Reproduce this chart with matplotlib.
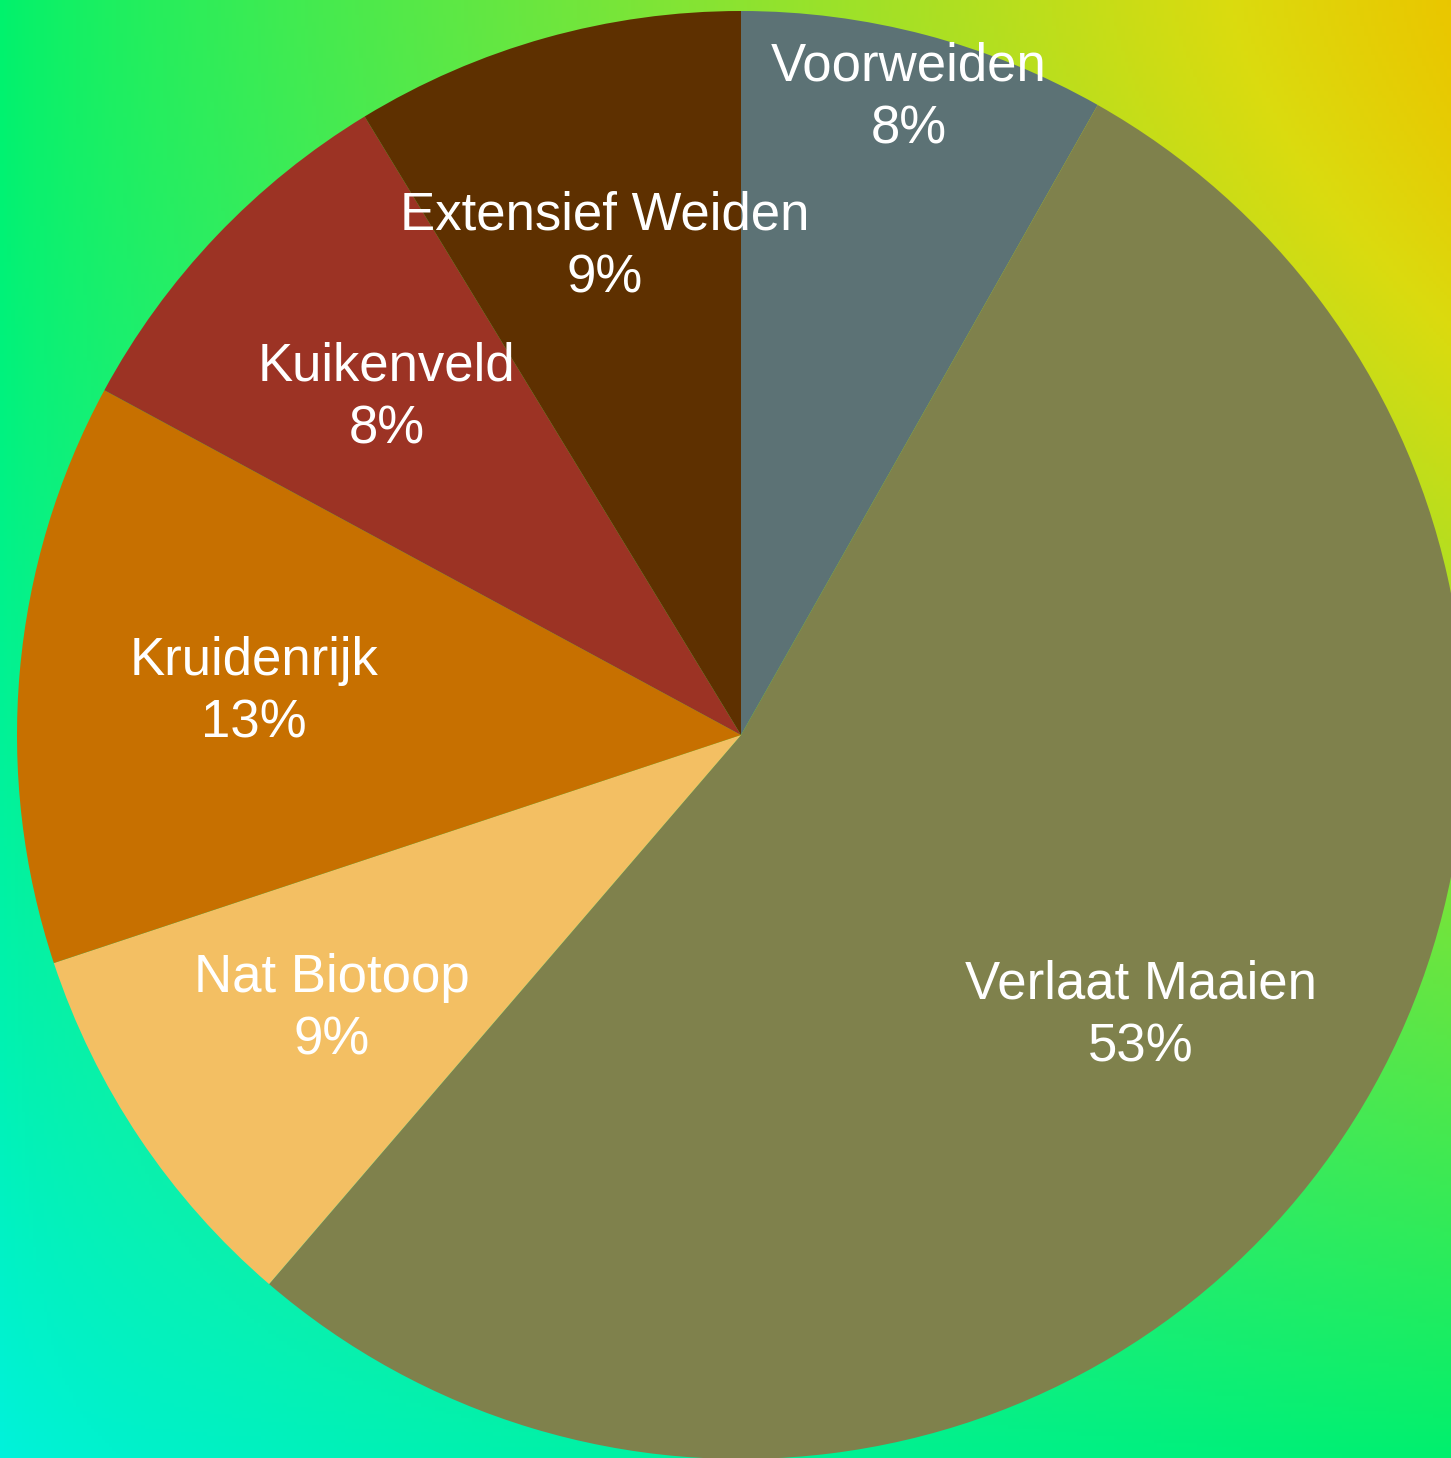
import numpy as np
import matplotlib
matplotlib.use("Agg")
import matplotlib.pyplot as plt

# -------------------------------
# Data (clockwise from 12 o'clock)
# -------------------------------
categories = ["Voorweiden", "Verlaat Maaien", "Nat Biotoop", "Kruidenrijk", "Kuikenveld", "Extensief Weiden"]
shares = [8.2, 53.1, 8.6, 13.0, 8.4, 8.7]
pct_labels = ["8%", "53%", "9%", "13%", "8%", "9%"]
colors = ["#5C7275", "#7F814C", "#F3BF63", "#C77000", "#9C3324", "#5E3000"]
label_radius = [0.91, 0.675, 0.68, 0.675, 0.675, 0.70]

W, H = 1451, 1458
fig = plt.figure(figsize=(W / 100, H / 100), dpi=100)
ax = fig.add_axes([0, 0, 1, 1])

# -------------------------------
# Gradient background (corner blend, slightly brightened)
# -------------------------------
tl = np.array([0, 245, 110]) / 255
tr = np.array([228, 194, 0]) / 255
bl = np.array([0, 245, 222]) / 255
br = np.array([0, 240, 110]) / 255
u = (np.linspace(0, 1, 400) ** 0.8)[None, :, None]
v = (np.linspace(0, 1, 400) ** 1.4)[:, None, None]
top = tl * (1 - u) + tr * u
bottom = bl * (1 - u) + br * u
grad = top * (1 - v) + bottom * v
grad = np.clip(grad * (0.94 / grad.max(axis=2, keepdims=True)) ** 0.5, 0, 1)
ax.imshow(grad, extent=(0, W, 0, H), origin="upper", aspect="auto", zorder=0)

# -------------------------------
# Pie
# -------------------------------
cx, cy, r = 741, H - 735, 724
wedges, _ = ax.pie(shares, colors=colors, startangle=90, counterclock=False,
                   center=(cx, cy), radius=r, frame=True,
                   wedgeprops=dict(linewidth=0))
for w in wedges:
    w.set_zorder(2)

for w, name, pct, lr in zip(wedges, categories, pct_labels, label_radius):
    mid = np.deg2rad((w.theta1 + w.theta2) / 2)
    x = cx + lr * r * np.cos(mid)
    y = cy + lr * r * np.sin(mid)
    ax.text(x, y, f"{name}\n{pct}", ha="center", va="center", color="white",
            fontsize=38, family="Liberation Sans", linespacing=1.33, zorder=3)

ax.set_xlim(0, W)
ax.set_ylim(0, H)
ax.set_aspect("auto")
ax.axis("off")

fig.savefig("out.png", dpi=100)
